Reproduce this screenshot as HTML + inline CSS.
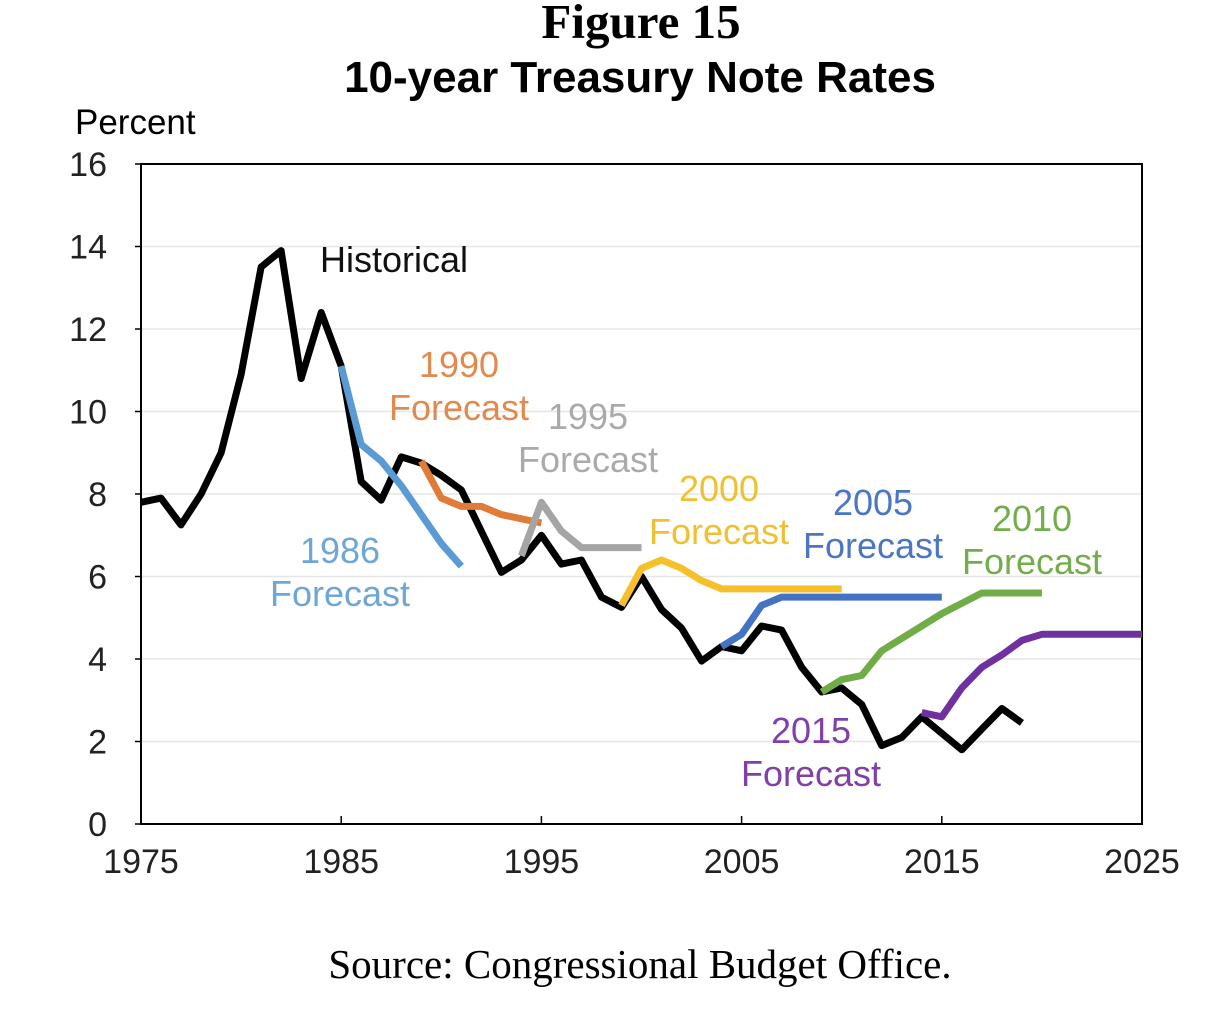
<!DOCTYPE html>
<html><head><meta charset="utf-8"><style>
html,body{margin:0;padding:0;background:#fff;}
body{width:1226px;height:1006px;overflow:hidden;}
svg text{font-family:"Liberation Sans",sans-serif;}
</style></head><body>
<svg id="chart" width="1226" height="1006" viewBox="0 0 1226 1006">
<text x="641" y="38" text-anchor="middle" font-weight="bold" font-size="49" style="font-family:'Liberation Serif',serif">Figure 15</text>
<text x="640" y="92" text-anchor="middle" font-weight="bold" font-size="44">10-year Treasury Note Rates</text>
<text x="75" y="134" font-size="35">Percent</text>
<g id="grid"></g><g id="axes"></g><g id="series"></g><g id="labels"></g>
<text x="640" y="978" text-anchor="middle" font-size="41" style="font-family:'Liberation Serif',serif">Source: Congressional Budget Office.</text>
</svg>
<script>
const xTicks=[1975,1985,1995,2005,2015,2025];
const yTicks=[0,2,4,6,8,10,12,14,16];
const histYears=[1975,1976,1977,1978,1979,1980,1981,1982,1983,1984,1985,1986,1987,1988,1989,1990,1991,1992,1993,1994,1995,1996,1997,1998,1999,2000,2001,2002,2003,2004,2005,2006,2007,2008,2009,2010,2011,2012,2013,2014,2015,2016,2017,2018,2019];
const histVals=[7.8,7.9,7.25,8.0,9.0,10.9,13.5,13.9,10.8,12.4,11.1,8.3,7.85,8.9,8.75,8.45,8.1,7.1,6.1,6.4,7.0,6.3,6.4,5.5,5.25,6.0,5.2,4.75,3.95,4.3,4.2,4.8,4.7,3.8,3.2,3.3,2.9,1.9,2.1,2.6,2.2,1.8,2.3,2.8,2.45];
const f1986Years=[1985,1986,1987,1988,1989,1990,1991];
const f1986Vals=[11.1,9.2,8.8,8.2,7.5,6.8,6.25];
const f1990Years=[1989,1990,1991,1992,1993,1994,1995];
const f1990Vals=[8.8,7.9,7.7,7.7,7.5,7.4,7.3];
const f1995Years=[1994,1995,1996,1997,1998,1999,2000];
const f1995Vals=[6.5,7.8,7.1,6.7,6.7,6.7,6.7];
const f2000Years=[1999,2000,2001,2002,2003,2004,2005,2006,2007,2008,2009,2010];
const f2000Vals=[5.3,6.2,6.4,6.2,5.9,5.7,5.7,5.7,5.7,5.7,5.7,5.7];
const f2005Years=[2004,2005,2006,2007,2008,2009,2010,2011,2012,2013,2014,2015];
const f2005Vals=[4.3,4.6,5.3,5.5,5.5,5.5,5.5,5.5,5.5,5.5,5.5,5.5];
const f2010Years=[2009,2010,2011,2012,2013,2014,2015,2016,2017,2018,2019,2020];
const f2010Vals=[3.2,3.5,3.6,4.2,4.5,4.8,5.1,5.35,5.6,5.6,5.6,5.6];
const f2015Years=[2014,2015,2016,2017,2018,2019,2020,2021,2022,2023,2024,2025];
const f2015Vals=[2.7,2.6,3.3,3.8,4.1,4.45,4.6,4.6,4.6,4.6,4.6,4.6];

const NS="http://www.w3.org/2000/svg";
const X0=141,X1=1142,Y0=824,Y1=164;
const xs=y=>X0+(y-1975)/(2025-1975)*(X1-X0);
const ys=v=>Y0-v/16*(Y0-Y1);
function mk(tag,attrs,parent,txt){const e=document.createElementNS(NS,tag);for(const k in attrs)e.setAttribute(k,attrs[k]);if(txt!==undefined)e.textContent=txt;parent.appendChild(e);return e;}
const grid=document.getElementById('grid'),axes=document.getElementById('axes'),series=document.getElementById('series'),labels=document.getElementById('labels');
yTicks.forEach(v=>{
  if(v>0&&v<16){const g=mk('line',{x1:X0,x2:X1,y1:ys(v),y2:ys(v),stroke:'#e6e6e6','stroke-width':1.5},grid);
  
  }
  const t=mk('line',{x1:X0-6,x2:X0,y1:ys(v),y2:ys(v),stroke:'#000','stroke-width':1.5},axes);
  
  
  const l=mk('text',{x:107,y:ys(v)+12,'text-anchor':'end','font-size':34,fill:'#222'},axes,String(v));
  
  
});
const box=mk('rect',{x:X0,y:Y1,width:X1-X0,height:Y0-Y1,fill:'none',stroke:'#000','stroke-width':2},axes);


xTicks.forEach(yr=>{
  const t=mk('line',{x1:xs(yr),x2:xs(yr),y1:Y0,y2:Y0-8,stroke:'#000','stroke-width':1.5},axes);
  
  
  const l=mk('text',{x:xs(yr),y:873,'text-anchor':'middle','font-size':34,fill:'#222'},axes,String(yr));
  
  
});
function line(years,vals,color,name){
  const d=years.map((y,i)=>(i?'L':'M')+xs(y).toFixed(1)+','+ys(vals[i]).toFixed(1)).join(' ');
  const p=mk('path',{d:d,fill:'none',stroke:color,'stroke-width':7,'stroke-linejoin':'round','stroke-linecap':'butt'},series);
  
  
}
line(histYears,histVals,'#000','historical-line');
line(f1986Years,f1986Vals,'#5b9bd5','forecast-1986-line');
line(f1990Years,f1990Vals,'#e07b39','forecast-1990-line');
line(f1995Years,f1995Vals,'#a5a5a5','forecast-1995-line');
line(f2000Years,f2000Vals,'#f5c02a','forecast-2000-line');
line(f2005Years,f2005Vals,'#4472c4','forecast-2005-line');
line(f2010Years,f2010Vals,'#70ad47','forecast-2010-line');
line(f2015Years,f2015Vals,'#7030a0','forecast-2015-line');
function lab(x,y,lines,color,name){
  lines.forEach((s,i)=>{const t=mk('text',{x:x,y:y+i*43,'text-anchor':'middle','font-size':36,fill:color},labels,s);
  
  });
}
lab(394,272,['Historical'],'#111','label-historical');
lab(340,563,['1986','Forecast'],'#6ea6d6','label-1986');
lab(459,377,['1990','Forecast'],'#e08a50','label-1990');
lab(588,429,['1995','Forecast'],'#aaaaaa','label-1995');
lab(719,501,['2000','Forecast'],'#f0c030','label-2000');
lab(873,515,['2005','Forecast'],'#4a76c4','label-2005');
lab(1032,531,['2010','Forecast'],'#74ae4c','label-2010');
lab(811,743,['2015','Forecast'],'#8040a8','label-2015');
</script>
</body></html>
